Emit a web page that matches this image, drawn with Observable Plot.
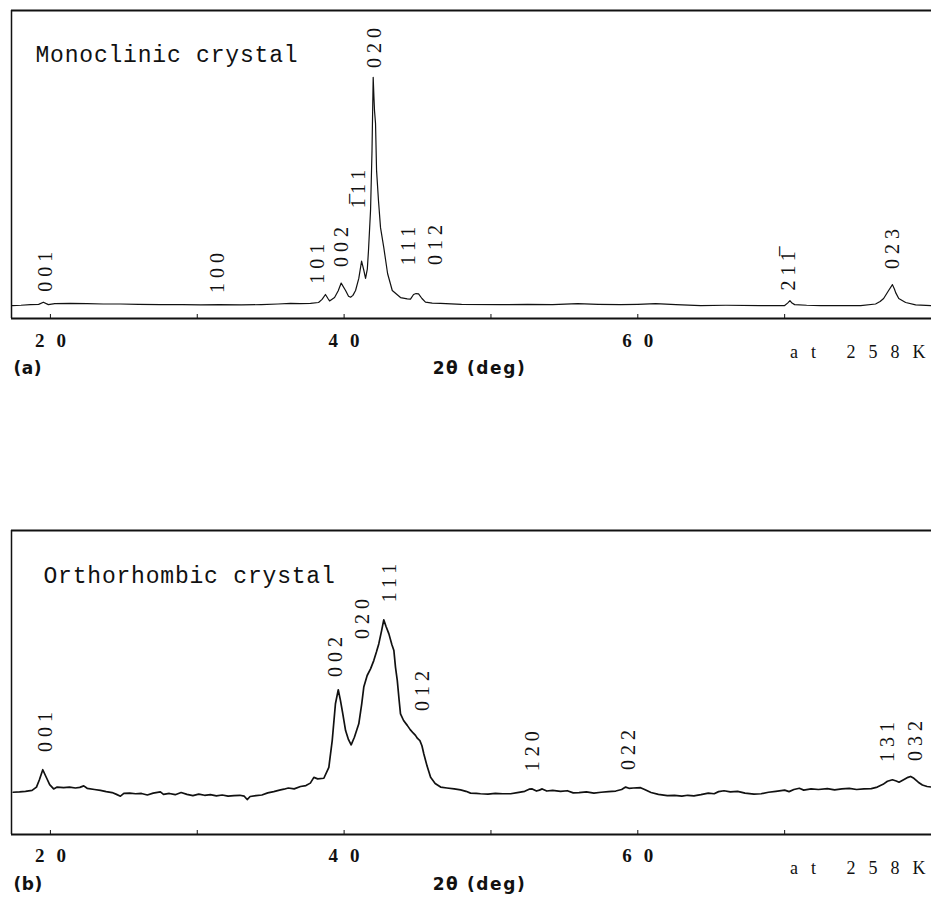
<!DOCTYPE html>
<html>
<head>
<meta charset="utf-8">
<script src="https://cdn.jsdelivr.net/npm/d3@7"></script>
<script src="https://cdn.jsdelivr.net/npm/@observablehq/plot@0.6"></script>
<style>
  html, body { margin: 0; padding: 0; background: #fff; overflow: hidden; }
  #chart svg { display: block; }
</style>
</head>
<body>
<div id="chart"></div>
<script>
// ---------- Panel (a): monoclinic crystal ----------
const monoDeg = [17.41,18.0,18.64,19.2,19.52,19.86,20.3,21.36,22.5,23.6,24.77,26.0,27.5,29.0,30.22,31.5,33.0,34.37,35.5,36.35,37.0,37.71,38.26,38.5,38.73,38.9,39.01,39.35,39.6,39.80,40.10,40.3,40.44,40.6,40.78,41.0,41.19,41.35,41.46,41.58,41.66,41.80,41.90,41.98,42.03,42.07,42.14,42.21,42.34,42.48,42.70,42.96,43.28,43.84,44.3,44.52,44.73,44.9,45.07,45.3,45.54,46.0,46.57,48.0,50.65,52.5,54.2,55.90,57.3,58.83,60.0,61.21,62.6,64.28,66.0,68.37,70.0,70.2,70.36,70.5,70.68,71.5,72.45,74.0,75.18,76.19,76.5,76.74,77.08,77.34,77.48,77.56,77.77,78.24,78.92,80.0];
const monoInt = [4.2,4.3,4.5,4.6,5.3,4.5,4.8,4.9,4.8,4.7,4.7,4.6,4.5,4.5,4.4,4.5,4.4,4.5,4.7,4.9,4.8,4.9,5.2,6.2,7.8,6.5,5.7,6.8,9.0,11.5,9.1,7.2,6.9,7.5,9.1,13.0,18.6,15.5,13.0,16.0,22.1,35.1,54.5,78.3,72.0,67.5,63.3,48.1,38.3,29.5,23.1,14.6,9.1,6.8,6.4,6.3,7.8,8.1,8.0,6.5,5.3,5.0,4.9,4.6,4.5,4.6,4.5,4.8,4.6,4.5,4.6,4.8,4.5,4.2,4.3,4.2,4.2,5.0,5.8,5.0,4.5,4.3,4.2,4.2,4.2,4.7,5.5,6.5,9.1,11.0,9.5,8.4,6.5,5.2,4.4,4.2];
const monoLabels = ["001","100","101","002","1\u030511","020","111","012","211\u0305","023"];
const monoLabelDeg = [19.66,31.38,38.17,39.82,40.98,42.07,44.39,46.23,70.27,77.36];
const monoLabelLevel = [16.6,16.2,19.2,24.7,43.5,89.3,25.0,25.3,16.9,24.0];

// ---------- Panel (b): orthorhombic crystal ----------
const orthoDeg = [17.46,17.9,18.3,18.75,19.05,19.25,19.48,19.7,19.95,20.22,20.46,20.9,21.3,21.7,22.0,22.27,22.5,23.0,23.41,23.8,24.2,24.5,24.77,25.0,25.4,25.8,26.2,26.6,27.0,27.49,27.7,28.1,28.5,28.9,29.3,29.7,30.1,30.5,30.90,31.3,31.7,32.1,32.5,32.9,33.2,33.40,33.6,34.0,34.4,34.8,35.21,35.6,35.9,36.2,36.6,37.03,37.4,37.7,37.94,38.2,38.62,38.96,39.19,39.41,39.60,39.75,39.9,40.10,40.3,40.48,40.7,41.00,41.2,41.34,41.57,41.8,42.02,42.2,42.36,42.55,42.70,42.85,43.05,43.25,43.39,43.5,43.62,43.75,43.84,44.05,44.30,44.5,44.7,44.86,45.0,45.16,45.3,45.43,45.65,45.89,46.2,46.57,47.0,47.5,47.93,48.3,48.61,49.0,49.29,49.8,50.3,50.8,51.34,51.8,52.3,52.6,52.81,53.1,53.3,53.49,53.8,54.2,54.74,55.2,55.6,56.0,56.5,57.01,57.5,58.0,58.5,58.9,59.17,59.4,59.7,60.19,60.5,60.9,61.4,62.01,62.5,63.0,63.4,63.82,64.3,64.8,65.2,65.5,65.87,66.3,66.8,67.3,67.91,68.4,68.9,69.4,70.0,70.3,70.63,71.0,71.3,71.8,72.3,72.91,73.4,73.9,74.4,74.9,75.4,75.9,76.31,76.7,77.0,77.34,77.6,77.79,78.1,78.4,78.58,78.8,79.1,79.38,79.7,80.0];
const orthoInt = [13.9,14.0,14.2,14.5,15.6,18.0,21.3,19.0,16.4,15.0,15.6,15.4,15.6,15.3,15.5,16.0,15.2,14.8,14.5,14.1,13.8,13.2,12.6,13.5,13.6,13.4,13.5,13.0,13.6,14.0,13.2,13.5,13.1,13.8,13.2,12.8,13.3,12.9,13.1,12.7,13.0,12.6,12.8,12.9,12.6,11.5,12.5,12.8,13.0,13.7,14.1,14.6,14.9,15.3,15.0,15.8,16.1,16.9,18.8,18.3,18.5,22.1,30.9,43.0,47.6,44.1,40.0,34.2,31.2,29.5,32.0,36.4,43.0,48.5,52.3,54.5,57.2,60.0,62.7,67.0,70.6,68.5,66.0,62.5,60.5,55.0,50.7,44.0,39.7,37.5,35.9,34.5,33.4,32.6,31.6,30.9,29.2,26.5,22.5,18.8,16.8,15.6,15.3,15.0,14.7,14.2,13.6,13.5,13.4,13.3,13.5,13.4,13.4,13.8,14.2,14.9,15.0,14.3,14.6,15.0,14.3,14.5,14.2,14.4,13.7,13.8,14.0,13.6,13.9,14.1,14.3,14.8,15.6,15.2,15.3,15.4,14.7,13.8,13.2,12.8,12.9,12.6,12.9,12.7,13.1,13.6,13.4,14.1,14.4,14.0,14.2,13.6,13.3,13.4,13.9,14.2,14.6,14.1,14.8,15.2,14.6,15.0,14.8,15.1,14.7,15.0,15.2,14.8,15.0,15.1,15.6,16.5,17.5,18.0,17.6,17.2,18.0,18.8,19.1,18.5,17.2,16.3,15.8,15.6];
const orthoLabels = ["001","002","020","111","012","120","022","131","032"];
const orthoLabelDeg = [19.66,39.41,41.25,43.09,45.34,52.83,59.37,77.02,78.92];
const orthoLabelLevel = [35.2,59.9,72.4,84.2,48.7,28.9,29.3,31.9,32.2];

// ---------- shared axis ----------
const xDomain = [17.35, 80.0];
const yDomain = [0, 100];
const tickValues = [20, 30, 40, 50, 60, 70];
const tickLabelValues = [20, 40, 60];
const axisTitle = "2\u03b8 (deg)";
const tempNote = "at 258K";

const serif = "'Liberation Serif', 'Times New Roman', serif";
const mono = "'Courier New', 'Liberation Mono', monospace";
const sans = "'DejaVu Sans', sans-serif";

function panel({deg, inten, labels, labelDeg, labelLevel, title, tag, height, marginTop, marginBottom, titleDx, titleDy, tickPad, lineWidth}) {
  const trace = deg.map((d, i) => ({deg: d, intensity: inten[i]}));
  const peaks = labels.map((t, i) => ({t, deg: labelDeg[i], level: labelLevel[i]}));
  const svg = Plot.plot({
    width: 931,
    height,
    marginTop,
    marginBottom,
    marginLeft: 11,
    marginRight: 0,
    x: {domain: xDomain, label: null},
    y: {domain: yDomain, label: null, axis: null},
    style: {background: "#fff", color: "#111"},
    marks: [
      Plot.ruleY([yDomain[1]], {stroke: "#111", strokeWidth: 2}),
      Plot.ruleX([xDomain[0]], {stroke: "#111", strokeWidth: 1.5}),
      Plot.ruleY([yDomain[0]], {stroke: "#111", strokeWidth: 2}),
      Plot.axisX(tickValues, {tickSize: 4, dy: -4, tickFormat: () => "", stroke: "#111"}),
      Plot.axisX(tickLabelValues, {tickSize: 0, tickPadding: tickPad, dx: 6, tickFormat: d => String(d),
        fontSize: 19, fontFamily: serif, fontWeight: "bold", fill: "#111"}),
      Plot.line(trace, {x: "deg", y: "intensity", stroke: "#111", strokeWidth: lineWidth}),
      Plot.text(peaks, {x: "deg", y: "level", text: "t", rotate: -90, dy: 2, fontSize: 20, fontFamily: serif, fill: "#111"}),
      Plot.text([title], {frameAnchor: "top-left", dx: titleDx, dy: titleDy, textAnchor: "start",
        fontSize: 23, fontFamily: mono, fill: "#111"}),
      Plot.text([tag], {frameAnchor: "bottom-left", dx: 2, dy: 55, textAnchor: "start",
        fontSize: 17, fontFamily: sans, fontWeight: "bold", fill: "#111"}),
      Plot.text([axisTitle], {frameAnchor: "bottom", dx: 8, dy: 55,
        fontSize: 17, fontFamily: sans, fontWeight: "bold", fill: "#111"}),
      Plot.text([tempNote], {frameAnchor: "bottom-right", dx: -6, dy: 39, textAnchor: "end",
        fontSize: 18, fontFamily: serif, fill: "#111"})
    ]
  });
  // typographic letter spacing of the typed-in labels
  const spacing = new Map();
  labels.forEach(l => spacing.set(l, 5));
  tickLabelValues.forEach(v => spacing.set(String(v), 12));
  spacing.set(tempNote, 13);
  spacing.set(title, 0.8);
  spacing.set(axisTitle, 1.6);
  spacing.set(tag, 0.5);
  svg.querySelectorAll("text").forEach(t => {
    const s = t.textContent;
    if (!spacing.has(s)) return;
    t.style.letterSpacing = spacing.get(s) + "px";
    if (s === tempNote) {
      // keep the trailing spacing off the last letter so the note ends at the edge cleanly
      const head = s.slice(0, -1), last = s.slice(-1);
      t.textContent = head;
      const ts = document.createElementNS("http://www.w3.org/2000/svg", "tspan");
      ts.textContent = last;
      ts.style.letterSpacing = "0px";
      t.appendChild(ts);
    }
  });
  return svg;
}

const chart = document.getElementById("chart");
chart.append(panel({
  deg: monoDeg, inten: monoInt, labels: monoLabels, labelDeg: monoLabelDeg, labelLevel: monoLabelLevel,
  title: "Monoclinic crystal", tag: "(a)", height: 390, marginTop: 10, marginBottom: 72,
  titleDx: 24, titleDy: 35, tickPad: 15, lineWidth: 1.2
}));
chart.append(panel({
  deg: orthoDeg, inten: orthoInt, labels: orthoLabels, labelDeg: orthoLabelDeg, labelLevel: orthoLabelLevel,
  title: "Orthorhombic crystal", tag: "(b)", height: 512, marginTop: 140, marginBottom: 68,
  titleDx: 32, titleDy: 36, tickPad: 14, lineWidth: 1.7
}));
</script>
</body>
</html>
